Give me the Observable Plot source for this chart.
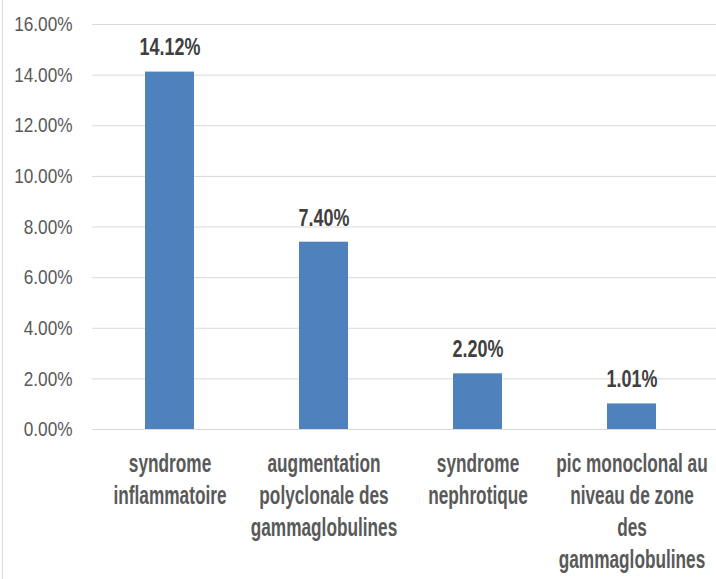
<!DOCTYPE html>
<html>
<head>
<meta charset="utf-8">
<script src="https://cdn.jsdelivr.net/npm/d3@7"></script>
<script src="https://cdn.jsdelivr.net/npm/@observablehq/plot@0.6"></script>
<style>
  html, body { margin: 0; padding: 0; background: #fff; }
  #wrap { position: relative; width: 716px; height: 579px; overflow: hidden; }
  #border { position: absolute; left: 2px; top: 0; width: 1px; height: 579px; background: #d9d9d9; }
  #chart { position: absolute; left: 0; top: 0; }
</style>
</head>
<body>
<div id="wrap"><div id="border"></div><div id="chart"></div></div>
<script>
const categories = [
  "syndrome\ninflammatoire",
  "augmentation\npolyclonale des\ngammaglobulines",
  "syndrome\nnephrotique",
  "pic monoclonal au\nniveau de zone\ndes\ngammaglobulines"
];
const values = [0.1412, 0.0740, 0.0220, 0.0101];
const yTicks = [0, 0.02, 0.04, 0.06, 0.08, 0.10, 0.12, 0.14, 0.16];

const data = categories.map((c, i) => ({category: c, value: values[i]}));
const font = "'Liberation Sans', Arial, sans-serif";

const chart = Plot.plot({
  width: 716,
  height: 579,
  marginLeft: 92,
  marginRight: 0,
  marginTop: 24,
  marginBottom: 150,
  style: {fontFamily: font, background: "transparent"},
  x: {domain: categories, range: [92, 710], paddingInner: 0.68, paddingOuter: 0.34, label: null},
  y: {domain: [0, 0.16], label: null},
  marks: [
    Plot.ruleY(yTicks, {stroke: "#d9d9d9", strokeWidth: 1}),
    Plot.barY(data, {x: "category", y: "value", fill: "#4f81bd"}),
    Plot.text(data, {
      x: "category", y: "value", text: d => d3.format(".2%")(d.value),
      dy: -24, fontSize: 23, fontWeight: "bold", fill: "#404040"
    }),
    Plot.axisY({
      ticks: yTicks, tickFormat: d3.format(".2%"), tickSize: 0, tickPadding: 20,
      fontSize: 21, color: "#595959", label: null
    }),
    Plot.axisX({
      tickSize: 0, tickPadding: 20, fontSize: 25, fontWeight: "bold",
      color: "#595959", lineHeight: 1.28, label: null
    })
  ]
});
document.getElementById("chart").appendChild(chart);

// narrow, tall glyphs like the reference: wrap each text in a group squeezed horizontally about its anchor
function squeeze(selection, s, anchor) {
  selection.each(function() {
    const g = document.createElementNS("http://www.w3.org/2000/svg", "g");
    this.parentNode.insertBefore(g, this);
    g.appendChild(this);
    const b = g.getBBox();
    const cx = anchor === "end" ? b.x + b.width : b.x + b.width / 2;
    g.setAttribute("transform", `translate(${cx},0) scale(${s},1) translate(${-cx},0)`);
  });
}
const sel = d3.select(chart);
squeeze(sel.selectAll("g[aria-label='y-axis tick label'] text"), 0.82, "end");
squeeze(sel.selectAll("g[aria-label='x-axis tick label'] text"), 0.69, "middle");
squeeze(sel.selectAll("g[aria-label='text'] text"), 0.78, "middle");
</script>
</body>
</html>
